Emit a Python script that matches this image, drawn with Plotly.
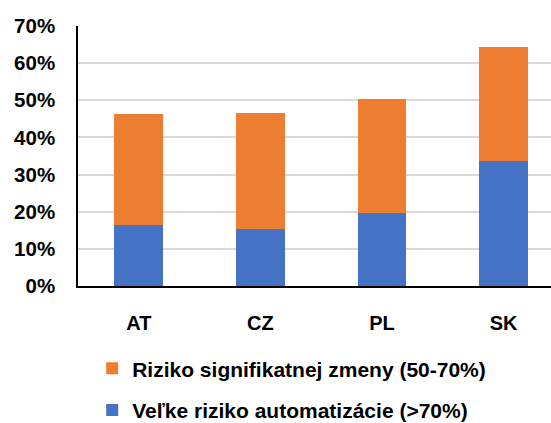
import plotly.graph_objects as go

categories = ["AT", "CZ", "PL", "SK"]
high_risk = [0.164, 0.154, 0.197, 0.337]
significant_change = [0.298, 0.312, 0.306, 0.307]

FONT = "Liberation Sans"

fig = go.Figure()
fig.add_trace(go.Bar(
    x=categories, y=high_risk, name="Veľke riziko automatizácie (>70%)",
    marker=dict(color="#4472C4", line=dict(width=0)), width=0.4, legend="legend2",
))
fig.add_trace(go.Bar(
    x=categories, y=significant_change, name="Riziko signifikatnej zmeny (50-70%)",
    marker=dict(color="#ED7D31", line=dict(width=0)), width=0.4, legend="legend",
))

legfont = dict(family=FONT, size=21, color="black", weight="bold")
fig.update_layout(
    barmode="stack",
    width=551, height=423,
    margin=dict(l=78, r=0, t=26, b=137, autoexpand=False),
    plot_bgcolor="white", paper_bgcolor="white",
    font=dict(family=FONT, size=19, color="black"),
    showlegend=True,
    legend=dict(x=0.030, y=-0.318, xref="paper", yref="paper", xanchor="left", yanchor="middle",
                font=legfont, bgcolor="rgba(0,0,0,0)"),
    legend2=dict(x=0.030, y=-0.478, xref="paper", yref="paper", xanchor="left", yanchor="middle",
                 font=legfont, bgcolor="rgba(0,0,0,0)"),
)
fig.update_yaxes(
    range=[0, 0.7], dtick=0.1, tickformat=".0%", automargin=False,
    showgrid=True, gridcolor="#D9D9D9", gridwidth=1.5,
    showline=True, linecolor="black", linewidth=1.5,
    ticks="", ticklabelstandoff=17,
    tickfont=dict(family=FONT, size=20.5, color="black", weight="bold"),
    zeroline=False,
)
fig.update_xaxes(
    range=[-0.5, 3.39], automargin=False,
    showline=True, linecolor="black", linewidth=2,
    ticks="", ticklabelstandoff=18,
    tickfont=dict(family=FONT, size=20, color="black", weight="bold"),
)

fig.write_html("out.html", config={"displayModeBar": False},
               post_script="document.body.style.margin='0';document.body.style.overflow='hidden';")
